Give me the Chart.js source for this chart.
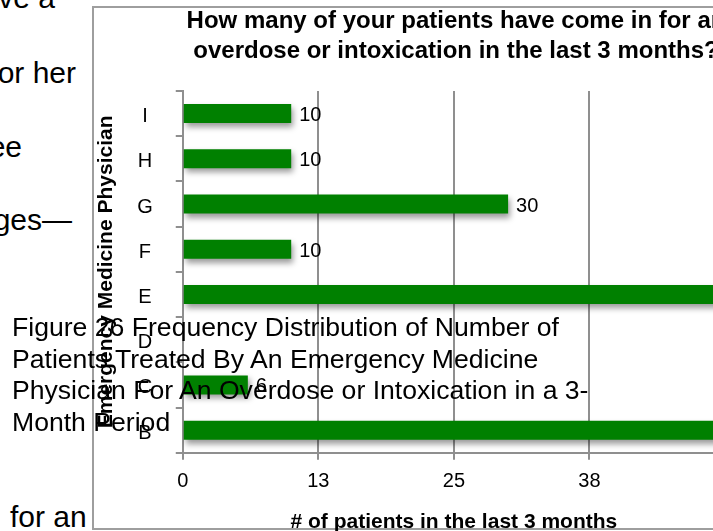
<!DOCTYPE html>
<html>
<head>
<meta charset="utf-8">
<script src="https://cdn.jsdelivr.net/npm/chart.js@4.4.1/dist/chart.umd.min.js"></script>
<style>
  html, body { margin: 0; padding: 0; background: #fff; overflow: hidden; }
  body { width: 713px; height: 531px; position: relative; font-family: "Liberation Sans", Arial, Helvetica, sans-serif; color: #000; }
  #frame { position: absolute; left: 92px; top: 6px; width: 800px; height: 520px; border: 2px solid #9e9e9e; }
  #myChart { position: absolute; left: 94px; top: 6px; }
  .doc { position: absolute; font-size: 30px; line-height: 36px; white-space: nowrap; }
  #caption { position: absolute; left: 12px; top: 312px; font-size: 26.6px; line-height: 31.7px; white-space: nowrap; }
</style>
</head>
<body>
<div id="frame"></div>
<canvas id="myChart" width="724" height="529"></canvas>

<div class="doc" style="right:658px; top:-20px;">ve a</div>
<div class="doc" style="right:637px; top:55px;">or her</div>
<div class="doc" style="right:691px; top:129px;">ee</div>
<div class="doc" style="right:641px; top:202px;">ges—</div>
<div class="doc" style="left:10px; top:499px;">for an</div>

<div id="caption">Figure 26 Frequency Distribution of Number of<br>Patients Treated By An Emergency Medicine<br>Physician For An Overdose or Intoxication in a 3-<br>Month Period</div>

<script>
var physicians = ["B", "C", "D", "E", "F", "G", "H", "I"];
var patientCounts = [50, 6, 0, 50, 10, 30, 10, 10];
var xTickLabels = ["0", "13", "25", "38", "50"];
var chartTitle = ["How many of your patients have come in for an", "overdose or intoxication in the last 3 months?"];

var gray = "#8f8f8f";
var fontName = '"Liberation Sans", Arial, Helvetica, sans-serif';
Chart.defaults.font.family = fontName;
Chart.defaults.color = "#000";

// drop shadow under the bars, then the value next to each bar
var barDecor = {
  id: "barDecor",
  beforeDatasetsDraw: function(chart) {
    var c = chart.ctx;
    c.save();
    c.shadowColor = "rgba(0,0,0,0.4)";
    c.shadowBlur = 6;
    c.shadowOffsetX = 2;
    c.shadowOffsetY = 4;
  },
  afterDatasetsDraw: function(chart) {
    var c = chart.ctx;
    c.restore();
    c.save();
    c.font = "20px " + fontName;
    c.fillStyle = "#000";
    c.textAlign = "left";
    c.textBaseline = "middle";
    chart.getDatasetMeta(0).data.forEach(function(bar, i) {
      if (patientCounts[i] > 0) c.fillText(patientCounts[i], bar.x + 8, bar.y + 2);
    });
    c.restore();
  }
};

new Chart("myChart", {
  type: "bar",
  data: {
    labels: physicians,
    datasets: [{
      data: patientCounts,
      backgroundColor: "#008000",
      barPercentage: 0.42,
      categoryPercentage: 1
    }]
  },
  options: {
    indexAxis: "y",
    responsive: false,
    animation: false,
    layout: { padding: 0 },
    plugins: {
      legend: { display: false },
      tooltip: { enabled: false },
      title: {
        display: true,
        text: chartTitle,
        font: { size: 24, weight: "bold", lineHeight: 1.25 },
        color: "#000",
        padding: { top: 0, bottom: 25 }
      }
    },
    scales: {
      x: {
        min: 0,
        max: 50,
        ticks: {
          stepSize: 12.5,
          font: { size: 20 },
          padding: 10,
          callback: function(v, i) { return xTickLabels[i]; }
        },
        grid: { color: gray, lineWidth: 2, tickLength: 7 },
        border: { color: gray, width: 2 },
        title: {
          display: true,
          text: "# of patients in the last 3 months",
          font: { size: 21, weight: "bold" },
          padding: { top: 6, bottom: 0 }
        }
      },
      y: {
        reverse: true,
        offset: true,
        ticks: { font: { size: 20 }, padding: 23, crossAlign: "center", labelOffset: 3 },
        grid: { offset: true, drawOnChartArea: false, color: gray, lineWidth: 2, tickLength: 7 },
        border: { color: gray, width: 2 },
        title: {
          display: true,
          text: "Emergency Medicine Physician",
          font: { size: 21, weight: "bold" },
          padding: { top: 0, bottom: -5 }
        }
      },
      pad: {
        position: "right",
        grid: { display: false },
        border: { display: false },
        ticks: { display: false },
        afterFit: function(s) { s.width = 93; }
      }
    }
  },
  plugins: [barDecor]
});
</script>
</body>
</html>
